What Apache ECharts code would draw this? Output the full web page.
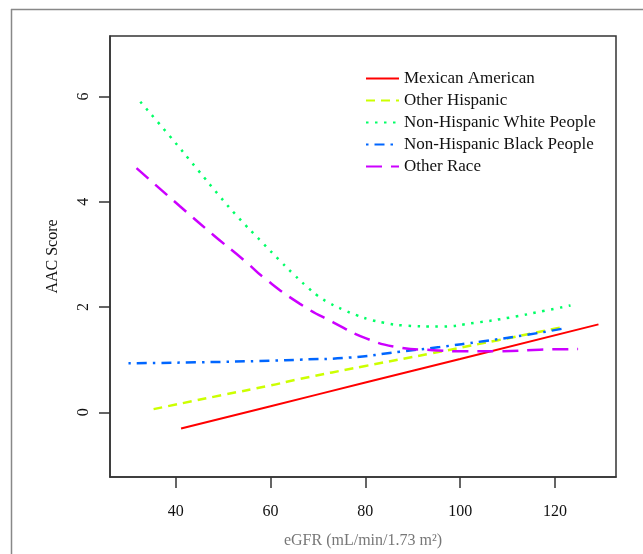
<!DOCTYPE html>
<html>
<head>
<meta charset="utf-8">
<script src="https://cdn.jsdelivr.net/npm/echarts@6/dist/echarts.min.js"></script>
<style>
  html, body { margin: 0; padding: 0; background: #fff; }
  #chart { width: 643px; height: 554px; }
</style>
</head>
<body>
<div id="chart"></div>
<script>
// eGFR values and AAC score
var mexicanX = [41.1, 60, 80, 100, 129.2];
var mexicanY = [-0.31, 0.115, 0.565, 1.014, 1.67];

var hispanicX = [35.3, 50, 60, 66, 80, 94, 108, 121.8];
var hispanicY = [0.06, 0.33, 0.51, 0.63, 0.88, 1.12, 1.37, 1.62];

var whiteX = [32.5, 38.6, 44.6, 49.3, 53, 58.2, 62.2, 65, 67.5, 70, 72.5, 75.3, 78, 80.6, 84, 88, 95.7, 103.1, 110.5, 117.9, 123.3];
var whiteY = [5.90, 5.26, 4.61, 4.10, 3.72, 3.23, 2.86, 2.61, 2.40, 2.21, 2.07, 1.95, 1.85, 1.77, 1.70, 1.65, 1.63, 1.70, 1.80, 1.93, 2.03];

var blackX = [30, 45, 60, 66.2, 76.7, 87.3, 95.7, 104.9, 114, 122.3];
var blackY = [0.93, 0.95, 0.98, 1.00, 1.04, 1.15, 1.24, 1.35, 1.47, 1.60];

var otherX = [31.7, 40.8, 47.9, 54.9, 58.4, 66.2, 73.2, 80.3, 86.6, 94.3, 101.4, 108.4, 116.8, 124.9];
var otherY = [4.64, 3.92, 3.37, 2.85, 2.57, 2.06, 1.71, 1.40, 1.24, 1.18, 1.16, 1.16, 1.19, 1.20];

var xTicks = [40, 60, 80, 100, 120];
var yTicks = [0, 2, 4, 6];

var names = ["Mexican American", "Other Hispanic", "Non-Hispanic White People", "Non-Hispanic Black People", "Other Race"];

function pairs(xs, ys) {
  return xs.map(function (x, i) { return [x, ys[i]]; });
}

var font = "'Liberation Serif', 'DejaVu Serif', serif";
var dom = document.getElementById("chart");
var myChart = echarts.init(dom, null, { renderer: "canvas" });

var option = {
  animation: false,
  backgroundColor: "#fff",
  graphic: [
    { type: "line", shape: { x1: 11, y1: 9.5, x2: 643, y2: 9.5 }, style: { stroke: "#888", lineWidth: 1.5 } },
    { type: "line", shape: { x1: 11.5, y1: 9, x2: 11.5, y2: 554 }, style: { stroke: "#888", lineWidth: 1.5 } }
  ],
  grid: {
    left: 110, right: 27, top: 36, bottom: 75,
    show: true, borderColor: "#333", borderWidth: 1.5
  },
  legend: {
    orient: "vertical",
    left: 365, top: 70,
    padding: 0,
    itemWidth: 33, itemHeight: 14, itemGap: 5,
    itemStyle: { opacity: 0 },
    textStyle: { fontFamily: font, fontSize: 17, color: "#111" },
    data: names
  },
  xAxis: {
    type: "value",
    min: 26.1, max: 132.9,
    name: "eGFR (mL/min/1.73 m²)",
    nameLocation: "middle",
    nameGap: 56,
    nameTextStyle: { fontFamily: font, fontSize: 16, color: "#777" },
    splitLine: { show: false },
    axisLine: { show: true, onZero: false, lineStyle: { color: "#333", width: 1.5 } },
    axisTick: { show: true, length: 11, lineStyle: { color: "#333", width: 1.5 }, customValues: xTicks },
    axisLabel: { customValues: xTicks, margin: 27, fontFamily: font, fontSize: 16, color: "#111" }
  },
  yAxis: {
    type: "value",
    min: -1.23, max: 7.15,
    name: "AAC Score",
    nameLocation: "middle",
    nameGap: 49,
    nameTextStyle: { fontFamily: font, fontSize: 16, color: "#111" },
    splitLine: { show: false },
    axisLine: { show: true, onZero: false, lineStyle: { color: "#333", width: 1.5 } },
    axisTick: { show: true, length: 11, lineStyle: { color: "#333", width: 1.5 }, customValues: yTicks },
    axisLabel: { customValues: yTicks, rotate: 90, margin: 18, fontFamily: font, fontSize: 16, color: "#111" }
  },
  series: [
    {
      name: names[0], type: "line", smooth: true, symbol: "none",
      lineStyle: { color: "#FF0000", width: 2, type: "solid" },
      itemStyle: { color: "#FF0000" },
      data: pairs(mexicanX, mexicanY)
    },
    {
      name: names[1], type: "line", smooth: true, symbol: "none",
      lineStyle: { color: "#CCFF00", width: 2.5, type: [9, 6] },
      itemStyle: { color: "#CCFF00" },
      data: pairs(hispanicX, hispanicY)
    },
    {
      name: names[2], type: "line", smooth: true, symbol: "none",
      lineStyle: { color: "#00FF66", width: 2.5, type: [2.5, 6.5] },
      itemStyle: { color: "#00FF66" },
      data: pairs(whiteX, whiteY)
    },
    {
      name: names[3], type: "line", smooth: true, symbol: "none",
      lineStyle: { color: "#0066FF", width: 2.5, type: [2.5, 6, 10, 6] },
      itemStyle: { color: "#0066FF" },
      data: pairs(blackX, blackY)
    },
    {
      name: names[4], type: "line", smooth: true, symbol: "none",
      lineStyle: { color: "#CC00FF", width: 2.5, type: [16, 9] },
      itemStyle: { color: "#CC00FF" },
      data: pairs(otherX, otherY)
    }
  ]
};

myChart.setOption(option);
</script>
</body>
</html>
